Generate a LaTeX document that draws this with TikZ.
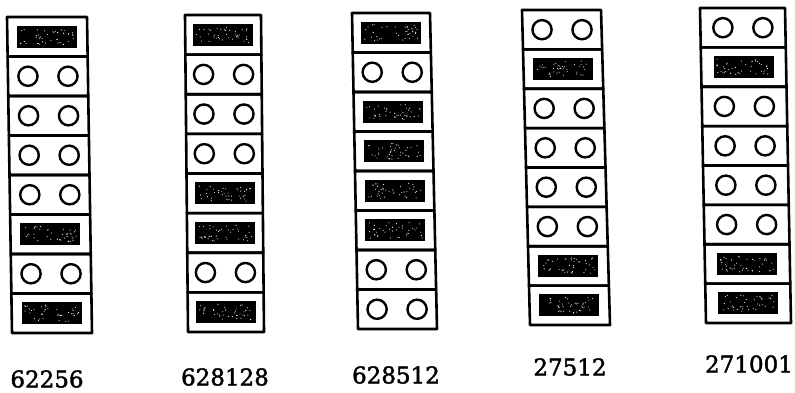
\documentclass[tikz,border=0pt]{standalone}
\usepackage{fontspec}
\newfontfamily\labfont[FakeBold=1.8]{DejaVu Serif}
\tikzset{
  cellline/.style={line width=2.6pt, line join=round},
  holeline/.style={line width=2.4pt},
  lab/.style={font=\labfont\fontsize{23}{23}\selectfont, inner sep=0pt, anchor=center},
}
% #1 top-left x, #2 top-right x, #3 bottom-left x, #4 bottom-right x, #5 top y, #6 bottom y, #7 pattern (1 = black bar, 0 = two holes)
\newcommand{\mycolumn}[7]{%
  \foreach \t [count=\i from 0] in {#7} {
    \pgfmathsetmacro\fa{\i/8}
    \pgfmathsetmacro\fb{(\i+1)/8}
    \pgfmathsetmacro\fm{(\i+0.5)/8}
    \pgfmathsetmacro\ya{#5+(#6-#5)*\fa}
    \pgfmathsetmacro\yb{#5+(#6-#5)*\fb}
    \pgfmathsetmacro\ym{#5+(#6-#5)*\fm}
    \pgfmathsetmacro\la{#1+(#3-#1)*\fa}
    \pgfmathsetmacro\ra{#2+(#4-#2)*\fa}
    \pgfmathsetmacro\lb{#1+(#3-#1)*\fb}
    \pgfmathsetmacro\rb{#2+(#4-#2)*\fb}
    \pgfmathsetmacro\cx{0.5*(#1+(#3-#1)*\fm+#2+(#4-#2)*\fm)}
    \draw[cellline] (\la,\ya) -- (\ra,\ya) -- (\rb,\yb) -- (\lb,\yb) -- cycle;
    \ifnum\t=1
      \fill[black] (\cx-30,\ym-11) rectangle (\cx+30,\ym+11);
      \foreach \k in {1,...,40} {
        \pgfmathsetmacro\rx{\cx+rnd*54-27}
        \pgfmathsetmacro\ry{\ym+rnd*16-8}
        \fill[white] (\rx,\ry) circle (0.55);
      }
    \else
      \draw[holeline] (\cx-20,\ym) circle (9.6);
      \draw[holeline] (\cx+20,\ym) circle (9.6);
    \fi
  }%
}
\begin{document}
\begin{tikzpicture}[x=1pt,y=-1pt]
\pgfmathsetseed{4711}
\useasboundingbox (0,0) rectangle (795,393);
\fill[white] (0,0) rectangle (795,393);
\mycolumn{7}{87}{12}{92}{17}{333}{1,0,0,0,0,1,0,1}
\mycolumn{185}{261}{188}{264}{15}{332}{1,0,0,0,1,1,0,1}
\mycolumn{352}{430}{358}{437}{13}{329}{1,0,1,1,1,1,0,0}
\mycolumn{522}{601}{530}{610}{10}{325}{0,1,0,0,0,0,1,1}
\mycolumn{700}{785}{706}{791}{8}{323}{0,1,0,0,0,0,1,1}
\node[lab] (l1) at (47,379) {62256};
\node[lab] (l2) at (225,377) {628128};
\node[lab] (l3) at (396,375) {628512};
\node[lab] (l4) at (570,367) {27512};
\node[lab] (l5) at (749,364) {271001};
\end{tikzpicture}
\end{document}
